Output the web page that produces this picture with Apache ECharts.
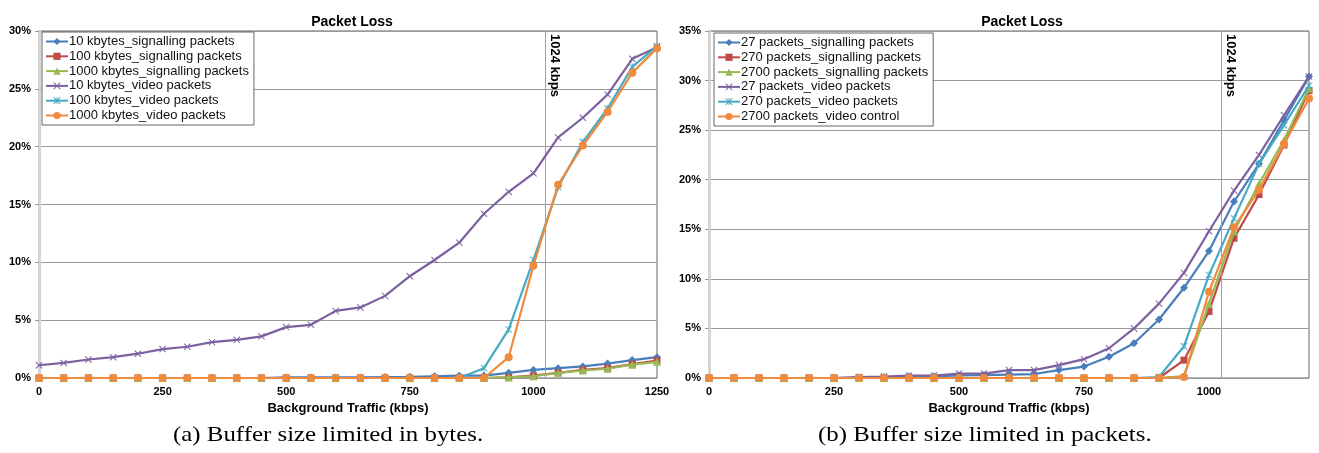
<!DOCTYPE html>
<html>
<head>
<meta charset="utf-8">
<script src="https://cdn.jsdelivr.net/npm/echarts@6/dist/echarts.min.js"></script>
<style>
html, body { margin: 0; padding: 0; background: #fff; }
#chart { width: 1319px; height: 453px; }
</style>
</head>
<body>
<div id="chart"></div>
<script>
// 左图：缓冲区按字节限制
var xBytes = [0, 50, 100, 150, 200, 250, 300, 350, 400, 450, 500, 550, 600, 650, 700, 750, 800, 850, 900, 950, 1000, 1050, 1100, 1150, 1200, 1250];
var kb10Sig = [0, 0, 0, 0, 0, 0, 0, 0, 0, 0, 0.05, 0.05, 0.05, 0.05, 0.08, 0.1, 0.15, 0.2, 0.2, 0.45, 0.7, 0.85, 1.0, 1.25, 1.55, 1.8];
var kb100Sig = [0, 0, 0, 0, 0, 0, 0, 0, 0, 0, 0, 0, 0, 0, 0, 0, 0, 0, 0, 0.05, 0.2, 0.45, 0.7, 0.85, 1.2, 1.5];
var kb1000Sig = [0, 0, 0, 0, 0, 0, 0, 0, 0, 0, 0, 0, 0, 0, 0, 0, 0, 0, 0, 0.05, 0.15, 0.45, 0.65, 0.8, 1.15, 1.4];
var kb10Vid = [1.1, 1.3, 1.6, 1.8, 2.1, 2.5, 2.7, 3.1, 3.3, 3.6, 4.4, 4.6, 5.8, 6.1, 7.1, 8.8, 10.2, 11.7, 14.2, 16.1, 17.7, 20.8, 22.5, 24.5, 27.6, 28.6];
var kb100Vid = [0, 0, 0, 0, 0, 0, 0, 0, 0, 0, 0, 0, 0, 0, 0, 0, 0, 0, 0.85, 4.2, 10.2, 16.5, 20.4, 23.3, 26.9, 28.7];
var kb1000Vid = [0, 0, 0, 0, 0, 0, 0, 0, 0, 0, 0, 0, 0, 0, 0, 0, 0, 0, 0, 1.8, 9.7, 16.7, 20.1, 23.0, 26.4, 28.5];

// 右图：缓冲区按包数限制
var xPkts = [0, 50, 100, 150, 200, 250, 300, 350, 400, 450, 500, 550, 600, 650, 700, 750, 800, 850, 900, 950, 1000, 1050, 1100, 1150, 1200];
var p27Sig = [0, 0, 0, 0, 0, 0, 0.05, 0.1, 0.15, 0.15, 0.25, 0.3, 0.35, 0.4, 0.8, 1.15, 2.15, 3.5, 5.9, 9.1, 12.8, 17.8, 21.6, 26.0, 30.4];
var p270Sig = [0, 0, 0, 0, 0, 0, 0, 0, 0, 0, 0, 0, 0, 0, 0, 0, 0, 0, 0, 1.8, 6.7, 14.1, 18.5, 23.5, 29.0];
var p2700Sig = [0, 0, 0, 0, 0, 0, 0, 0, 0, 0, 0, 0, 0, 0, 0, 0, 0, 0, 0, 0.2, 7.5, 14.8, 19.6, 24.0, 29.2];
var p27Vid = [0, 0, 0, 0, 0, 0, 0.1, 0.15, 0.25, 0.25, 0.45, 0.45, 0.8, 0.8, 1.3, 1.9, 3.0, 5.0, 7.5, 10.6, 14.8, 18.9, 22.5, 26.5, 30.4];
var p270Vid = [0, 0, 0, 0, 0, 0, 0, 0, 0, 0, 0, 0, 0, 0, 0, 0, 0, 0, 0.1, 3.2, 10.4, 16.1, 21.6, 25.5, 29.5];
var p2700Vid = [0, 0, 0, 0, 0, 0, 0, 0, 0, 0, 0, 0, 0, 0, 0, 0, 0, 0, 0, 0.1, 8.7, 15.2, 19.0, 23.6, 28.2];

var namesBytes = ['10 kbytes_signalling packets', '100 kbytes_signalling packets', '1000 kbytes_signalling packets', '10 kbytes_video packets', '100 kbytes_video packets', '1000 kbytes_video packets'];
var namesPkts = ['27 packets_signalling packets', '270 packets_signalling packets', '2700 packets_signalling packets', '27 packets_video packets', '270 packets_video packets', '2700 packets_video control'];
var linkRate = 1024;

var colors = ['#4a7ebb', '#be4b48', '#98b954', '#7d60a0', '#46aac5', '#f08a3c'];
var crossPath = 'path://M0,1L1,0L5,4L9,0L10,1L6,5L10,9L9,10L5,6L1,10L0,9L4,5Z';
var starPath = 'path://M0,1L1,0L5,4L9,0L10,1L6,5L10,9L9,10L5,6L1,10L0,9L4,5Z M4.4,0L5.6,0L5.6,10L4.4,10Z';
var symbols = ['diamond', 'rect', 'triangle', crossPath, starPath, 'circle'];
var symbolSizes = [8, 7, 8, 7, 7, 8];
var font = 'Liberation Sans, Arial, sans-serif';
var serif = 'Liberation Serif, DejaVu Serif, serif';

function pairs(xs, ys) {
	return xs.map(function(x, i) {
		return [x, ys[i]];
	});
}

function makeSeries(names, xs, lists, idx) {
	return lists.map(function(ys, i) {
		var s = {
			name: names[i],
			type: 'line',
			xAxisIndex: idx,
			yAxisIndex: idx,
			data: pairs(xs, ys),
			symbol: symbols[i],
			symbolSize: symbolSizes[i],
			showAllSymbol: true,
			lineStyle: { width: 2.2, color: colors[i] },
			itemStyle: { color: colors[i] },
			emphasis: { disabled: true },
			z: 3 + i
		};
		if (i == 0) {
			s.markLine = {
				silent: true,
				symbol: 'none',
				lineStyle: { color: '#7fa7d9', width: 1, type: 'solid' },
				label: {
					show: true,
					position: 'insideStartTop',
					formatter: linkRate + ' kbps',
					color: '#000',
					fontWeight: 'bold',
					fontSize: 13,
					fontFamily: font,
					distance: 3
				},
				data: [[{ coord: [linkRate, idx == 0 ? 30 : 35] }, { coord: [linkRate, 0] }]]
			};
		}
		return s;
	});
}

function makeX(idx, max) {
	return {
		type: 'value',
		gridIndex: idx,
		min: 0,
		max: max,
		interval: 250,
		name: 'Background Traffic (kbps)',
		nameLocation: 'middle',
		nameGap: 24,
		nameTextStyle: { fontWeight: 'bold', fontSize: 13, color: '#000', fontFamily: font },
		axisLine: { show: false },
		axisTick: { show: false },
		splitLine: { show: false },
		axisLabel: {
			fontWeight: 'bold', fontSize: 11, color: '#000', fontFamily: font, margin: 8,
			formatter: function(v) { return v > 1000 && max != 1250 ? '' : v; }
		}
	};
}

function makeY(idx, max) {
	return {
		type: 'value',
		gridIndex: idx,
		min: 0,
		max: max,
		interval: 5,
		axisLine: { show: true, lineStyle: { color: '#d4d4d4', width: 3 } },
		axisTick: { show: true, length: 4, lineStyle: { color: '#999' } },
		splitLine: { lineStyle: { color: '#999', width: 1 } },
		axisLabel: { fontWeight: 'bold', fontSize: 11, color: '#000', fontFamily: font, formatter: '{value}%', margin: 8 }
	};
}

function makeLegend(names, left, top) {
	return {
		data: names,
		orient: 'vertical',
		left: left,
		top: top,
		padding: [3, 5, 3, 3],
		itemGap: 1.8,
		itemWidth: 22,
		itemHeight: 9,
		borderColor: '#666',
		borderWidth: 1,
		backgroundColor: '#fff',
		borderRadius: 0,
		textStyle: { fontSize: 13, color: '#111', fontFamily: font, padding: [0, 0, 0, -4] },
		selectedMode: false
	};
}

var chart = echarts.init(document.getElementById('chart'));
chart.setOption({
	animation: false,
	backgroundColor: '#fff',
	title: [
		{ text: 'Packet Loss', left: 347, top: 10, textAlign: 'center', textStyle: { fontSize: 14, fontWeight: 'bold', color: '#000', fontFamily: font } },
		{ text: 'Packet Loss', left: 1017, top: 10, textAlign: 'center', textStyle: { fontSize: 14, fontWeight: 'bold', color: '#000', fontFamily: font } }
	],
	legend: [makeLegend(namesBytes, 42, 32), makeLegend(namesPkts, 714, 33)],
	grid: [
		{ left: 39, top: 31, width: 618, height: 347, show: true, borderColor: '#666', borderWidth: 1 },
		{ left: 709, top: 31, width: 600, height: 347, show: true, borderColor: '#666', borderWidth: 1 }
	],
	xAxis: [makeX(0, 1250), makeX(1, 1200)],
	yAxis: [makeY(0, 30), makeY(1, 35)],
	graphic: [
		{ type: 'text', x: 173, y: 424, scaleX: 1.13, style: { text: '(a) Buffer size limited in bytes.', fontSize: 22, fontFamily: serif, fill: '#000' } },
		{ type: 'text', x: 818, y: 424, scaleX: 1.13, style: { text: '(b) Buffer size limited in packets.', fontSize: 22, fontFamily: serif, fill: '#000' } }
	],
	series: makeSeries(namesBytes, xBytes, [kb10Sig, kb100Sig, kb1000Sig, kb10Vid, kb100Vid, kb1000Vid], 0)
		.concat(makeSeries(namesPkts, xPkts, [p27Sig, p270Sig, p2700Sig, p27Vid, p270Vid, p2700Vid], 1))
});
</script>
</body>
</html>
